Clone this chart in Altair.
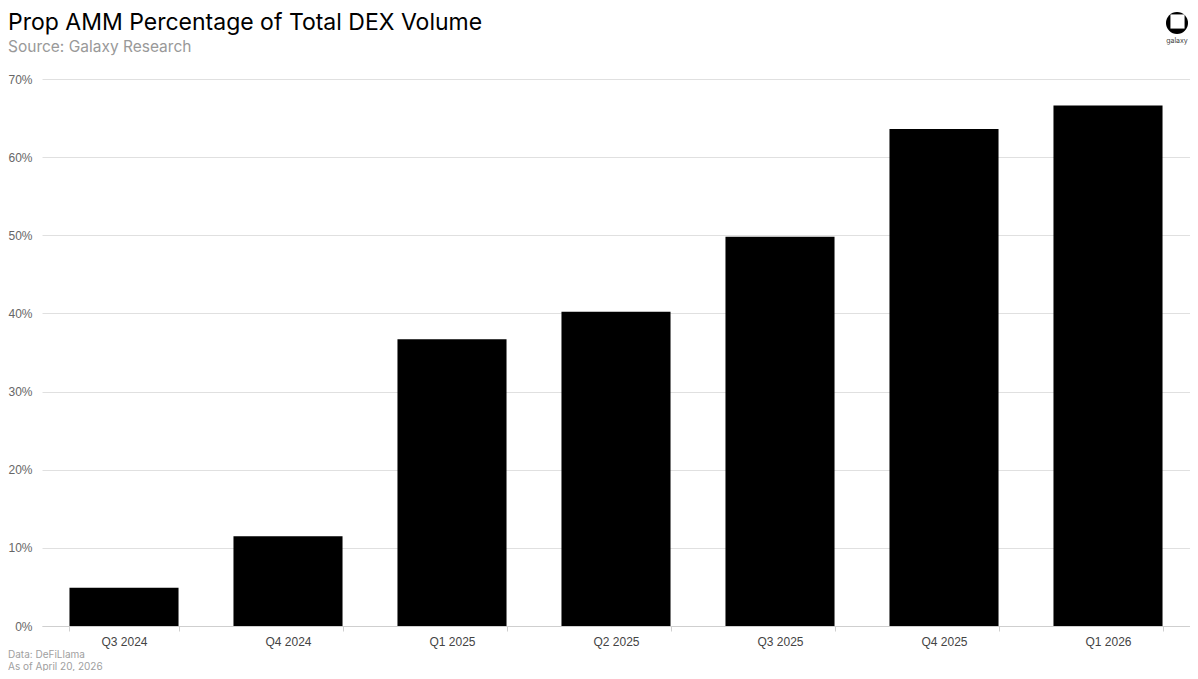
import altair as alt
import pandas as pd

quarters = ["Q3 2024", "Q4 2024", "Q1 2025", "Q2 2025", "Q3 2025", "Q4 2025", "Q1 2026"]
share_pct = [4.9, 11.5, 36.7, 40.2, 49.8, 63.6, 66.6]
y_ticks = [0, 10, 20, 30, 40, 50, 60, 70]

title_text = "Prop AMM Percentage of Total DEX Volume"
subtitle_text = "Source: Galaxy Research"
foot_lines = ["Data: DeFiLlama", "As of April 20, 2026"]
logo_label = "galaxy"

df = pd.DataFrame({"quarter": quarters, "share": share_pct})

W, H = 1148, 547

bars = alt.Chart(df).mark_bar(color="#000000").encode(
    x=alt.X(
        "quarter:N",
        sort=quarters,
        title=None,
        scale=alt.Scale(paddingInner=0.335, paddingOuter=0.1675, round=False),
        axis=alt.Axis(
            labelAngle=0,
            labelFont="Liberation Sans",
            labelFontSize=12,
            labelColor="#444444",
            labelPadding=5,
            domainColor="#cfcfcf",
            tickColor="#cfcfcf",
            tickSize=5,
            tickBand="extent",
            grid=False,
        ),
    ),
    y=alt.Y(
        "share:Q",
        title=None,
        scale=alt.Scale(domain=[0, 70], nice=False),
        axis=alt.Axis(
            values=y_ticks,
            labelExpr="datum.value + '%'",
            labelFont="Liberation Sans",
            labelFontSize=12,
            labelColor="#666666",
            labelPadding=10,
            domain=False,
            ticks=False,
            grid=True,
            gridColor="#e0e0e0",
            gridWidth=1,
        ),
    ),
)

one = pd.DataFrame({"k": [0]})


def text_layer(txt, x, y, size, color, font="Inter", align="left", weight="normal"):
    return alt.Chart(one).mark_text(
        text=txt, align=align, baseline="alphabetic", font=font,
        fontSize=size, color=color, fontWeight=weight,
    ).encode(x=alt.value(x), y=alt.value(y))


title = text_layer(title_text, -34, -49, 23, "#000000")
subtitle = text_layer(subtitle_text, -34, -27, 15.5, "#999999")
foot1 = text_layer(foot_lines[0], -34, H + 32, 10, "#a0a0a0")
foot2 = text_layer(foot_lines[1], -34, H + 44, 10, "#a0a0a0")

logo_ring = alt.Chart(one).mark_point(
    shape="circle", filled=True, color="#000000", size=484, opacity=1
).encode(x=alt.value(1135), y=alt.value(-56))
logo_inner = alt.Chart(one).mark_point(
    shape="square", filled=True, color="#ffffff", size=200, opacity=1
).encode(x=alt.value(1135.5), y=alt.value(-57.5))
logo_text = text_layer(logo_label, 1135, -36, 7, "#444444", align="center")

chart = alt.layer(
    bars, title, subtitle, foot1, foot2, logo_ring, logo_inner, logo_text
).properties(
    width=W,
    height=H,
    autosize=alt.AutoSizeParams(type="none"),
    padding={"left": 34, "top": 71, "right": 0, "bottom": 45},
).configure(background="#ffffff").configure_view(stroke=None)

chart.save("out.html", embed_options={"renderer": "svg", "actions": False})
